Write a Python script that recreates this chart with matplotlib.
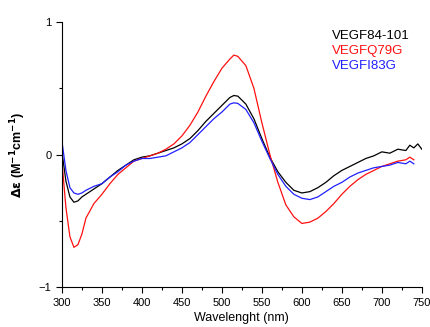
import matplotlib
matplotlib.use("Agg")
import matplotlib.pyplot as plt
from matplotlib.ticker import MultipleLocator

plt.rcParams['font.family'] = ['Liberation Sans', 'DejaVu Sans']

wl = [300, 305, 310, 315, 320, 325, 330, 340, 350, 360, 370, 380, 390, 400,
      410, 420, 430, 440, 450, 460, 470, 480, 490, 500, 510, 515, 520, 530,
      540, 550, 560, 570, 580, 590, 600, 610, 620, 630, 640, 650, 660, 670,
      680, 690, 700, 710, 720, 730, 735, 740]

wt = [0.02, -0.20, -0.32, -0.36, -0.35, -0.32, -0.30, -0.26, -0.22, -0.17,
      -0.12, -0.08, -0.04, -0.02, -0.01, 0.01, 0.03, 0.05, 0.08, 0.12, 0.18,
      0.25, 0.31, 0.37, 0.43, 0.445, 0.44, 0.38, 0.27, 0.12, -0.02, -0.13,
      -0.21, -0.27, -0.29, -0.28, -0.25, -0.21, -0.16, -0.12, -0.09, -0.06,
      -0.03, -0.01, 0.02, 0.01, 0.04, 0.03, 0.07, 0.05]
wt_tail_wl = [745, 750]
wt_tail = [0.08, 0.04]

q79g = [-0.05, -0.40, -0.62, -0.70, -0.68, -0.60, -0.48, -0.37, -0.30, -0.22,
        -0.15, -0.10, -0.05, -0.03, -0.01, 0.01, 0.04, 0.08, 0.14, 0.22, 0.32,
        0.44, 0.55, 0.65, 0.72, 0.75, 0.74, 0.67, 0.50, 0.24, 0.0, -0.21,
        -0.38, -0.47, -0.52, -0.51, -0.48, -0.43, -0.37, -0.30, -0.24, -0.19,
        -0.15, -0.12, -0.09, -0.07, -0.05, -0.04, -0.02, -0.04]

i83g = [0.10, -0.12, -0.25, -0.29, -0.30, -0.29, -0.27, -0.24, -0.22, -0.17,
        -0.13, -0.08, -0.05, -0.03, -0.03, -0.02, -0.01, 0.02, 0.05, 0.09,
        0.15, 0.21, 0.27, 0.32, 0.38, 0.39, 0.385, 0.34, 0.24, 0.10, -0.03,
        -0.15, -0.24, -0.30, -0.33, -0.34, -0.32, -0.28, -0.24, -0.21, -0.17,
        -0.14, -0.12, -0.10, -0.09, -0.08, -0.06, -0.07, -0.05, -0.07]

fig = plt.figure(figsize=(4.3, 3.27), dpi=100)
ax = fig.add_axes([0.144, 0.122, 0.837, 0.811])

ax.plot(wl + wt_tail_wl, wt + wt_tail, color="black", lw=0.9, label="VEGF84-101")
ax.plot(wl, q79g, color="#ff1010", lw=0.9, label="VEGFQ79G")
ax.plot(wl, i83g, color="#2020ff", lw=0.9, label="VEGFI83G")

ax.set_xlim(300, 750)
ax.set_ylim(-1, 1)
ax.xaxis.set_major_locator(MultipleLocator(50))
ax.xaxis.set_minor_locator(MultipleLocator(25))
ax.yaxis.set_major_locator(MultipleLocator(1))
ax.yaxis.set_minor_locator(MultipleLocator(0.5))
ax.tick_params(which="both", direction="out", labelsize=8, width=0.8)
ax.tick_params(which="major", length=4)
ax.tick_params(which="minor", length=2.5)
for s in ["top", "right"]:
    ax.spines[s].set_visible(False)
ax.set_xlabel("Wavelenght (nm)", fontsize=9, labelpad=3)
ax.set_ylabel(r"$\mathbf{\Delta\varepsilon}$ (M$^{\mathbf{-1}}$cm$^{\mathbf{-1}}$)",
              fontsize=9, fontweight="bold", labelpad=8)

leg = ax.legend(loc="upper right", bbox_to_anchor=(1.0, 1.015), frameon=False,
                handlelength=0, handletextpad=0, labelspacing=0.2,
                fontsize=9.5, labelcolor="linecolor")
for h in leg.legend_handles:
    h.set_visible(False)

fig.savefig("out.png", dpi=100)
